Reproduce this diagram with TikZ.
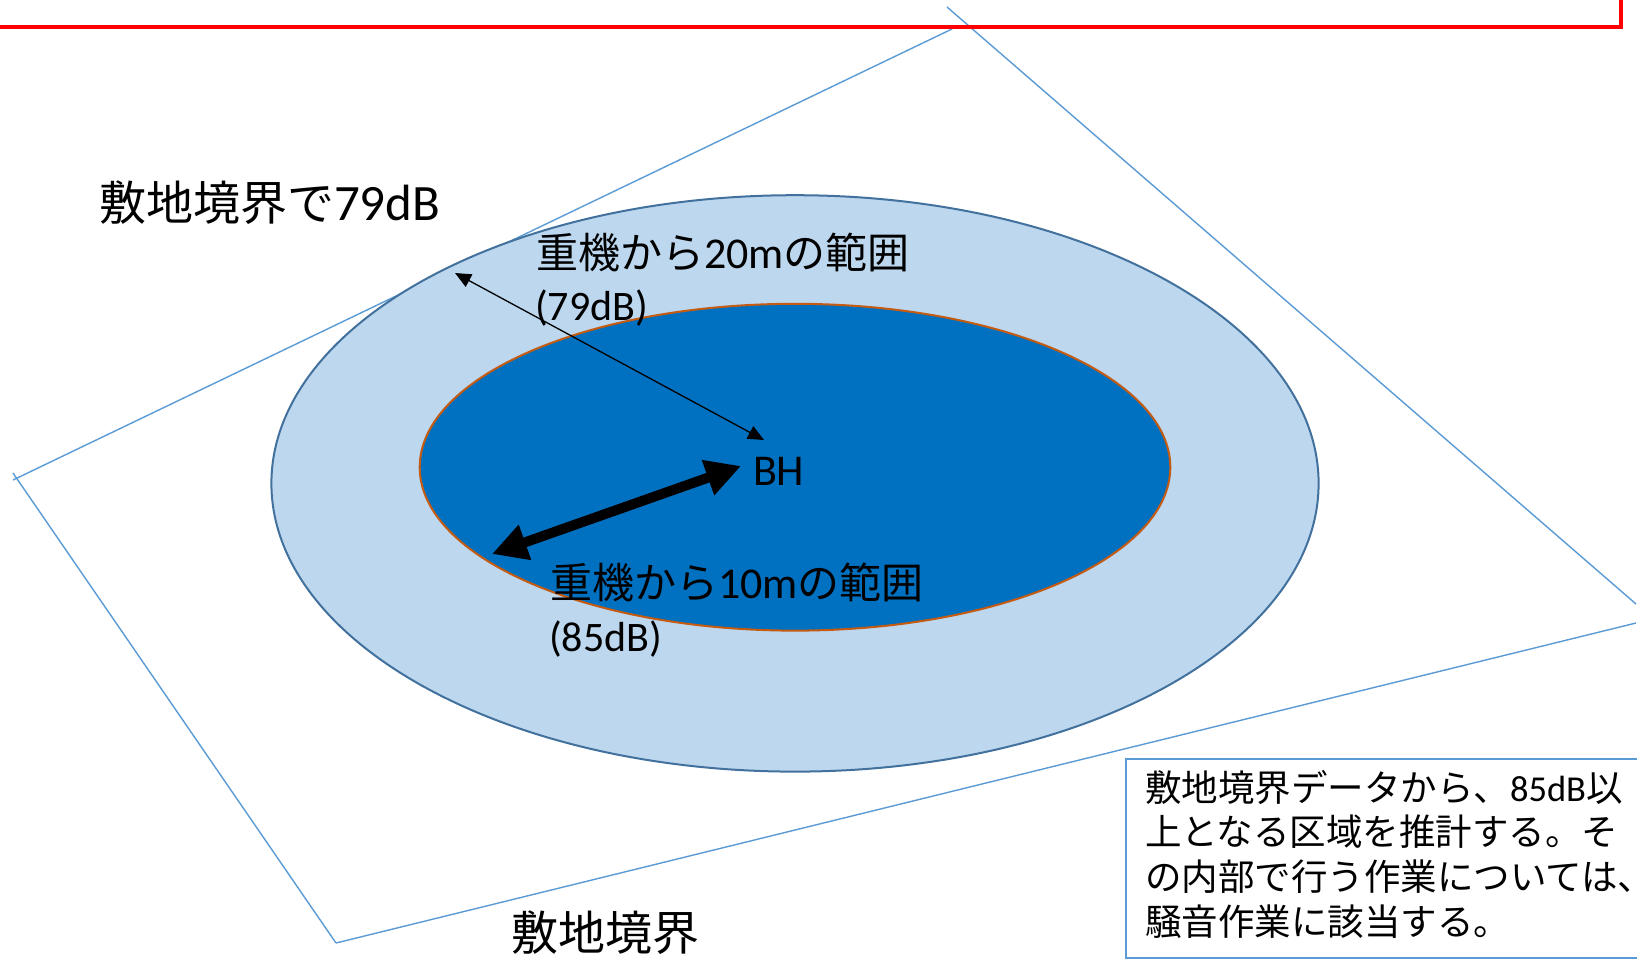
\documentclass[tikz,border=0pt]{standalone}
\usepackage{fontspec}
\setmainfont{Carlito}
\newfontfamily\jpfont{Noto Sans CJK JP}
\usetikzlibrary{arrows.meta}
\definecolor{siteblue}{HTML}{5B9BD5}
\definecolor{outerfill}{HTML}{BDD7EE}
\definecolor{outeredge}{HTML}{41719C}
\definecolor{innerfill}{HTML}{0070C0}
\definecolor{inneredge}{HTML}{C55A11}
\definecolor{framered}{HTML}{FF0000}
\newcommand\jp[1]{{\jpfont #1}}
\begin{document}
\begin{tikzpicture}[x=1pt,y=-1pt,
  lbl/.style={anchor=base west, inner sep=0pt, outer sep=0pt, text=black},
  big/.style={lbl, font=\fontsize{47}{56}\selectfont},
  mid/.style={lbl, font=\fontsize{42}{50}\selectfont},
  small/.style={lbl, font=\fontsize{36.5}{44}\selectfont},
  siteline/.style={draw=siteblue, line width=1.4pt},
  thinarrow/.style={line width=1.3pt, {Triangle[length=16pt,width=14pt]}-{Triangle[length=16pt,width=14pt]}},
  thickarrow/.style={line width=10pt, {Triangle[length=35pt,width=35pt]}-{Triangle[length=35pt,width=35pt]}}
]
\useasboundingbox (0,0) rectangle (1637,962);
\clip (0,0) rectangle (1637,962);
\fill[white] (0,0) rectangle (1637,962);

% site boundary (four separate lines)
\coordinate (a1) at (13,480);  \coordinate (a2) at (952,29);
\coordinate (b1) at (947,7);   \coordinate (b2) at (1636,604);
\coordinate (c1) at (1636,623); \coordinate (c2) at (336,943);
\coordinate (d1) at (13,473);  \coordinate (d2) at (336,943);
\draw[siteline] (a1) -- (a2);
\draw[siteline] (b1) -- (b2);
\draw[siteline] (c1) -- (c2);
\draw[siteline] (d1) -- (d2);

% red frame (bottom-right corner of a box above the picture)
\draw[framered, line width=3.5pt] (-20,-60) rectangle (1621,27);

% ellipses
\draw[fill=outerfill, draw=outeredge, line width=2pt] (795,483.4) ellipse [x radius=523.6pt, y radius=288.2pt];
\draw[fill=innerfill, draw=inneredge, line width=2pt] (795,467.2) ellipse [x radius=375.3pt, y radius=163.4pt];

% labels
\node[big] (title) at (99,220) {\jp{敷地境界で}{\fontsize{51}{60}\selectfont 79dB}};
\node[mid] (r20) at (536,268) {\jp{重機から}{\fontsize{44}{52}\selectfont 20m}\jp{の範囲}};
\node[mid] (db79) at (535,320) {(79dB)};
\node[mid] (r10) at (550,598) {\jp{重機から}{\fontsize{44}{52}\selectfont 10m}\jp{の範囲}};
\node[mid] (db85) at (549,651) {(85dB)};
\node[lbl, font=\fontsize{44}{52}\selectfont] (bh) at (753,485) {BH};
\node[big] (site) at (511,950) {\jp{敷地境界}};

% arrows
\coordinate (t1) at (455,273); \coordinate (t2) at (764,440);
\draw[thinarrow] (t1) -- (t2);
\coordinate (k1) at (492,554); \coordinate (k2) at (741,466);
\draw[thickarrow] (k1) -- (k2);

% note box (its right part runs past the picture's edge, as in the reference)
\draw[draw=siteblue, line width=2pt, fill=white] (1126,759) rectangle (1720,958);
\node[small] (n1) at (1145,801) {\jp{敷地境界データから、}85dB\jp{以}};
\node[small] (n2) at (1145,845) {\jp{上となる区域を推計する。そ}};
\node[small] (n3) at (1145,890) {\jp{の内部で行う作業については、}};
\node[small] (n4) at (1145,935) {\jp{騒音作業に該当する。}};
\end{tikzpicture}
\end{document}
